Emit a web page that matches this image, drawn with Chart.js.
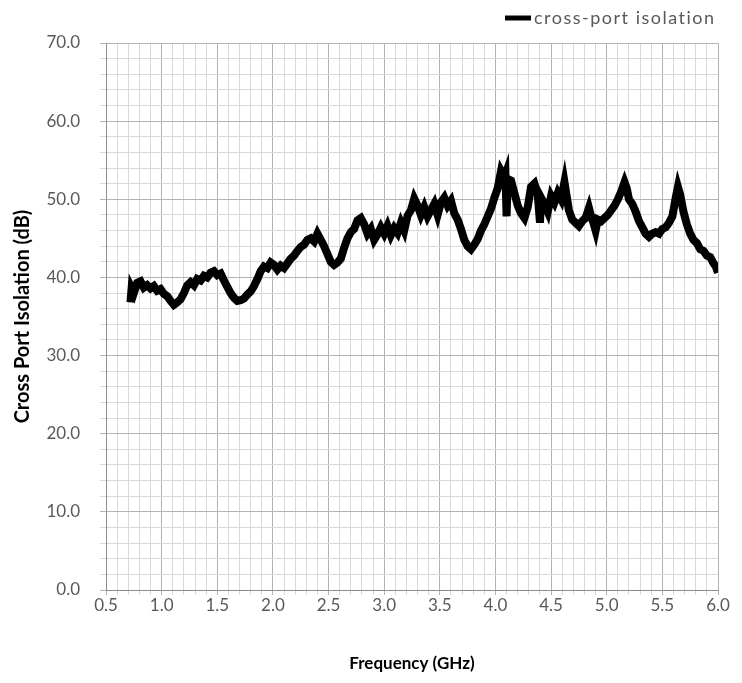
<!DOCTYPE html>
<html>
<head>
<meta charset="utf-8">
<script src="https://cdn.jsdelivr.net/npm/chart.js@4.4.1/dist/chart.umd.min.js"></script>
<style>
  html, body { margin: 0; padding: 0; background: #fff; }
  #wrap { width: 742px; height: 683px; }
</style>
</head>
<body>
<div id="wrap"><canvas id="isoChart"></canvas></div>
<script>
const seriesLabel = 'cross-port isolation';
const freqGHz = [
  0.72, 0.73, 0.75, 0.78, 0.81, 0.84, 0.87, 0.90, 0.93, 0.96, 0.99,
  1.02, 1.05, 1.08, 1.11, 1.14, 1.17, 1.20, 1.23, 1.26, 1.29, 1.32, 1.35, 1.38,
  1.41, 1.44, 1.47, 1.50, 1.53, 1.56, 1.59, 1.62, 1.65, 1.68, 1.71, 1.74, 1.77,
  1.80, 1.83, 1.86, 1.89, 1.92, 1.95, 1.98, 2.01, 2.04, 2.07, 2.10, 2.13, 2.16,
  2.19, 2.22, 2.25, 2.28, 2.31, 2.34, 2.37, 2.40, 2.43, 2.46, 2.49, 2.52, 2.55,
  2.58, 2.61, 2.64, 2.67, 2.70, 2.73, 2.76, 2.79, 2.82, 2.85, 2.88, 2.91, 2.94,
  2.97, 3.00, 3.03, 3.06, 3.09, 3.12, 3.15, 3.18, 3.21, 3.24, 3.27, 3.30, 3.33,
  3.36, 3.39, 3.42, 3.45, 3.48, 3.51, 3.54, 3.57, 3.60, 3.63, 3.66, 3.69, 3.72,
  3.75, 3.78, 3.81, 3.84, 3.87, 3.90, 3.93, 3.96, 3.99, 4.02, 4.05, 4.08, 4.09,
  4.10, 4.11, 4.14, 4.17, 4.20, 4.23, 4.26, 4.29, 4.32, 4.35, 4.38, 4.40, 4.41,
  4.44, 4.47, 4.50, 4.53, 4.56, 4.59, 4.62, 4.64, 4.66, 4.69, 4.72, 4.75, 4.78,
  4.81, 4.84, 4.86, 4.88, 4.90, 4.92, 4.95, 4.98, 5.01, 5.04, 5.07, 5.10, 5.13,
  5.16, 5.18, 5.20, 5.23, 5.26, 5.29, 5.32, 5.35, 5.38, 5.41, 5.44, 5.47, 5.50,
  5.53, 5.56, 5.59, 5.62, 5.64, 5.66, 5.69, 5.72, 5.75, 5.78, 5.81, 5.84, 5.87,
  5.90, 5.93, 5.96, 5.98, 6.00
];
const isolationDb = [
  36.8, 38.6, 38.0, 39.3, 39.5, 38.7, 39.0, 38.6, 38.9, 38.3, 38.5,
  37.9, 37.6, 37.0, 36.5, 36.8, 37.2, 38.0, 39.0, 39.4, 39.0, 39.8, 39.6, 40.2,
  40.0, 40.6, 40.8, 40.3, 40.5, 39.6, 38.8, 38.0, 37.4, 37.0, 37.1, 37.3, 37.8,
  38.2, 38.9, 39.8, 40.8, 41.4, 41.2, 41.9, 41.6, 41.0, 41.5, 41.2, 41.8, 42.4,
  42.8, 43.4, 43.9, 44.2, 44.8, 45.0, 44.6, 45.6, 44.8, 44.0, 43.0, 42.0, 41.6,
  41.9, 42.4, 43.8, 45.0, 45.8, 46.2, 47.3, 47.6, 46.8, 45.6, 46.2, 44.8, 45.5,
  46.4, 45.6, 46.6, 45.4, 46.3, 45.7, 47.0, 46.0, 47.9, 48.6, 50.1, 49.2, 48.0,
  49.0, 47.8, 48.6, 49.4, 48.0, 49.6, 50.2, 49.2, 49.8, 48.2, 47.4, 46.2, 44.8,
  44.0, 43.6, 44.2, 44.9, 46.0, 46.8, 47.8, 48.8, 50.2, 51.4, 53.6, 52.8, 53.2,
  47.8, 52.6, 52.4, 50.8, 49.2, 48.2, 47.6, 49.0, 51.6, 52.0, 50.6, 47.0, 50.2,
  49.4, 48.4, 50.4, 49.6, 50.8, 50.0, 52.2, 50.4, 48.6, 47.4, 47.0, 46.6, 47.2,
  47.6, 48.9, 47.8, 47.0, 46.0, 47.4, 47.2, 47.6, 48.0, 48.6, 49.2, 50.0, 51.0,
  52.2, 51.4, 50.0, 49.4, 48.4, 47.2, 46.4, 45.6, 45.2, 45.6, 45.8, 45.6, 46.2,
  46.4, 47.0, 47.8, 50.2, 51.6, 50.6, 48.4, 46.8, 45.6, 44.8, 44.4, 43.6, 43.4,
  42.8, 42.6, 41.8, 41.4, 40.6
];
const xMin = 0.5, xMax = 6.0, xMinorStep = 0.1, xMajorStep = 0.5;
const yMin = 0, yMax = 70, yMinorStep = 2, yMajorStep = 10;

const points = freqGHz.map((f, i) => ({ x: f, y: isolationDb[i] }));

function isMajor(v, step) {
  const r = v / step;
  return Math.abs(r - Math.round(r)) < 1e-6;
}

const tickFont = { family: 'Lato', size: 17 };

// legend sits in the top-right corner above the plot, like the Excel original
const seriesKey = {
  id: 'seriesKey',
  afterDraw(chart) {
    const ds = chart.data.datasets[0];
    const ctx = chart.ctx;
    const y = 18;
    ctx.save();
    ctx.strokeStyle = ds.borderColor;
    ctx.lineWidth = 5;
    ctx.beginPath();
    ctx.moveTo(505, y);
    ctx.lineTo(531, y);
    ctx.stroke();
    ctx.font = '18px Lato';
    ctx.fillStyle = '#595959';
    ctx.textBaseline = 'middle';
    if ('letterSpacing' in ctx) ctx.letterSpacing = '1.5px';
    ctx.fillText(ds.label, 534, y);
    ctx.restore();
  }
};

const config = {
  type: 'line',
  data: {
    datasets: [{
      label: seriesLabel,
      data: points,
      borderColor: '#000',
      backgroundColor: '#000',
      borderWidth: 8,
      pointRadius: 0,
      tension: 0,
      fill: false
    }]
  },
  options: {
    responsive: true,
    maintainAspectRatio: false,
    animation: false,
    layout: { padding: { top: 43, right: 24, left: 11, bottom: 0 } },
    plugins: {
      tooltip: { enabled: false },
      legend: { display: false }
    },
    scales: {
      x: {
        type: 'linear',
        min: xMin,
        max: xMax,
        afterFit: (s) => { s.height = 93; },
        grid: {
          color: (ctx) => isMajor(ctx.tick.value, xMajorStep) ? '#b4b4b4' : '#d9d9d9',
          lineWidth: 1,
          tickLength: 5
        },
        border: { color: '#8c8c8c', width: 1 },
        ticks: {
          stepSize: xMinorStep,
          autoSkip: false,
          maxRotation: 0,
          padding: 0,
          color: '#595959',
          font: tickFont,
          callback: (v) => isMajor(v, xMajorStep) ? v.toFixed(1) : ''
        },
        title: {
          display: true,
          text: 'Frequency (GHz)',
          color: '#000',
          font: { family: 'Lato', size: 17, weight: 'bold' },
          padding: { top: 5, bottom: 9 }
        }
      },
      y: {
        min: yMin,
        max: yMax,
        afterFit: (s) => { s.width = 95; },
        grid: {
          color: (ctx) => isMajor(ctx.tick.value, yMajorStep) ? '#b4b4b4' : '#d9d9d9',
          lineWidth: 1,
          tickLength: 6
        },
        border: { color: '#8c8c8c', width: 1 },
        ticks: {
          stepSize: yMinorStep,
          autoSkip: false,
          padding: 20,
          color: '#595959',
          font: tickFont,
          callback: (v) => isMajor(v, yMajorStep) ? v.toFixed(1) : ''
        },
        title: {
          display: true,
          text: 'Cross Port Isolation (dB)',
          color: '#000',
          font: { family: 'Lato', size: 20, weight: 'bold' },
          padding: 0
        }
      }
    }
  },
  plugins: [seriesKey]
};

const isoChart = new Chart(document.getElementById('isoChart'), config);
</script>
</body>
</html>
